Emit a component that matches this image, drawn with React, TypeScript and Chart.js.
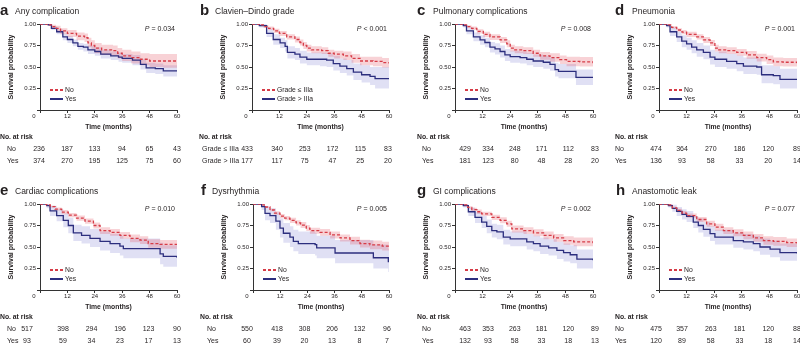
import React, { useEffect, useRef } from 'react';
import { Chart, registerables } from 'chart.js';
Chart.register(...registerables);

// ---------------- data ----------------
const MONTH_TICKS = [0, 12, 24, 36, 48, 60];
const Y_TICKS = [0, 0.25, 0.5, 0.75, 1];

// each row: [time (months), survival, lower CI, upper CI]
const aNo = [[0,1,1,1],[3.6,0.99,0.98,1],[5,0.97,0.95,0.99],[7,0.95,0.92,0.98],[9,0.92,0.88,0.95],[12,0.89,0.85,0.93],[16,0.86,0.81,0.9],[19.5,0.84,0.79,0.89],[21,0.78,0.73,0.84],[22.5,0.75,0.7,0.81],[24,0.72,0.66,0.78],[27,0.7,0.64,0.76],[32,0.69,0.63,0.75],[34,0.66,0.6,0.72],[36,0.63,0.57,0.7],[40,0.61,0.54,0.68],[44,0.59,0.52,0.66],[48,0.57,0.5,0.65],[54,0.57,0.49,0.65],[60,0.56,0.48,0.64]];
const aYes = [[0,1,1,1],[3.6,0.99,0.98,1],[5,0.95,0.93,0.97],[7.3,0.91,0.88,0.94],[10,0.85,0.81,0.89],[12,0.82,0.78,0.86],[14.4,0.78,0.74,0.82],[16.6,0.74,0.7,0.78],[19,0.73,0.68,0.77],[21,0.7,0.65,0.75],[24,0.68,0.63,0.73],[26.6,0.65,0.6,0.7],[31,0.63,0.58,0.68],[34.4,0.615,0.56,0.67],[36,0.6,0.55,0.65],[40.5,0.58,0.52,0.64],[44,0.53,0.47,0.59],[46.5,0.49,0.43,0.55],[50.5,0.48,0.42,0.54],[54,0.455,0.39,0.52],[60,0.455,0.39,0.52]];

const bNo = [[0,1,1,1],[3.2,0.99,0.98,1],[5,0.97,0.955,0.985],[7.2,0.95,0.93,0.97],[9.5,0.92,0.895,0.945],[12,0.89,0.86,0.92],[15.2,0.85,0.82,0.88],[18.8,0.82,0.785,0.855],[21,0.785,0.75,0.82],[22.5,0.75,0.71,0.79],[24,0.72,0.68,0.76],[26,0.7,0.66,0.74],[30.5,0.69,0.65,0.73],[33.4,0.66,0.62,0.7],[36,0.65,0.6,0.69],[40,0.63,0.58,0.68],[43.6,0.6,0.55,0.65],[47.3,0.57,0.52,0.62],[53,0.565,0.51,0.62],[57,0.55,0.495,0.605],[60,0.54,0.48,0.6]];
const bYes = [[0,1,1,1],[3.2,0.98,0.96,1],[6.4,0.89,0.85,0.94],[9.3,0.82,0.76,0.88],[12.3,0.78,0.72,0.84],[14.5,0.74,0.68,0.81],[15.5,0.67,0.6,0.74],[18.8,0.65,0.58,0.72],[21,0.615,0.54,0.69],[24,0.59,0.52,0.67],[29.8,0.59,0.51,0.67],[32.7,0.58,0.5,0.66],[35.6,0.54,0.46,0.63],[38.5,0.51,0.43,0.6],[41.5,0.48,0.4,0.58],[44.4,0.44,0.35,0.54],[48,0.41,0.32,0.52],[51.7,0.39,0.29,0.5],[53.9,0.365,0.25,0.5],[60,0.365,0.24,0.51]];

const cNo = [[0,1,1,1],[3.6,0.99,0.98,1],[5,0.97,0.955,0.985],[7.2,0.95,0.93,0.97],[9.5,0.915,0.89,0.94],[12.3,0.88,0.85,0.91],[15.2,0.85,0.815,0.88],[19.6,0.815,0.78,0.85],[22.5,0.77,0.73,0.81],[24,0.72,0.68,0.76],[26,0.7,0.66,0.74],[29.7,0.69,0.65,0.73],[34,0.66,0.62,0.7],[37,0.63,0.585,0.675],[41.3,0.61,0.56,0.66],[45.6,0.585,0.535,0.635],[48.5,0.565,0.51,0.62],[54.3,0.56,0.505,0.615],[60,0.545,0.49,0.6]];
const cYes = [[0,1,1,1],[3.6,0.98,0.96,1],[5,0.92,0.88,0.96],[8,0.85,0.8,0.9],[10.9,0.815,0.76,0.87],[13,0.785,0.73,0.84],[15.2,0.73,0.67,0.79],[17.4,0.71,0.645,0.775],[19.6,0.68,0.61,0.75],[21.7,0.64,0.57,0.71],[24,0.62,0.55,0.69],[28.3,0.61,0.54,0.68],[31.2,0.59,0.52,0.665],[34,0.57,0.5,0.645],[38.4,0.555,0.48,0.63],[41.3,0.53,0.455,0.61],[43.5,0.47,0.39,0.55],[45,0.45,0.37,0.535],[52.6,0.38,0.29,0.47],[60,0.38,0.29,0.47]];

const dNo = [[0,1,1,1],[3.3,0.99,0.98,1],[5.5,0.96,0.945,0.975],[7.7,0.93,0.91,0.95],[10,0.905,0.88,0.93],[12,0.88,0.85,0.91],[16.4,0.85,0.82,0.88],[19.3,0.815,0.78,0.85],[22.2,0.78,0.745,0.815],[24.3,0.72,0.68,0.76],[26,0.7,0.66,0.74],[29.4,0.69,0.65,0.73],[33.8,0.67,0.63,0.71],[38.1,0.64,0.595,0.685],[42.5,0.61,0.565,0.655],[46.8,0.585,0.535,0.635],[49.7,0.56,0.51,0.61],[54,0.555,0.505,0.605],[60,0.545,0.49,0.6]];
const dYes = [[0,1,1,1],[3.3,0.98,0.96,1],[4.8,0.91,0.86,0.96],[7.7,0.85,0.79,0.91],[9.9,0.8,0.73,0.87],[12,0.77,0.7,0.84],[14.2,0.73,0.66,0.81],[16.4,0.7,0.62,0.78],[19.3,0.67,0.59,0.75],[22.2,0.615,0.53,0.7],[24.3,0.59,0.5,0.68],[29.4,0.565,0.48,0.655],[33.8,0.54,0.45,0.635],[36.7,0.51,0.42,0.61],[42.5,0.5,0.41,0.6],[44.6,0.41,0.31,0.52],[49.7,0.4,0.3,0.51],[52.6,0.355,0.25,0.48],[60,0.355,0.25,0.48]];

const eNo = [[0,1,1,1],[2.9,0.99,0.985,1],[4.5,0.97,0.96,0.98],[6.6,0.94,0.925,0.96],[9.5,0.905,0.88,0.93],[12.4,0.87,0.845,0.895],[16,0.835,0.805,0.865],[19.7,0.8,0.77,0.83],[23.4,0.75,0.715,0.785],[26.3,0.69,0.65,0.73],[30.7,0.67,0.63,0.71],[35,0.635,0.595,0.675],[39.4,0.6,0.555,0.645],[43.8,0.58,0.535,0.625],[47.4,0.54,0.49,0.59],[52.6,0.53,0.48,0.58],[60,0.51,0.455,0.565]];
const eYes = [[0,1,1,1],[2.9,0.98,0.95,1],[4.4,0.92,0.86,0.98],[7.3,0.865,0.8,0.94],[10.2,0.81,0.73,0.89],[12.4,0.75,0.66,0.84],[14.6,0.665,0.57,0.76],[18.2,0.635,0.54,0.74],[21.9,0.6,0.5,0.71],[26.3,0.565,0.46,0.68],[30.7,0.54,0.43,0.655],[35,0.51,0.4,0.63],[36.5,0.48,0.37,0.6],[52.6,0.42,0.3,0.55],[54,0.39,0.27,0.52],[60,0.375,0.26,0.51]];

const fNo = [[0,1,1,1],[3.5,0.99,0.985,1],[5,0.965,0.955,0.975],[7.5,0.93,0.915,0.945],[9.5,0.895,0.875,0.915],[11.9,0.86,0.835,0.885],[14,0.835,0.81,0.86],[16.3,0.81,0.78,0.84],[19,0.78,0.75,0.81],[21,0.755,0.72,0.79],[23.5,0.72,0.685,0.755],[25.1,0.69,0.655,0.725],[29.6,0.67,0.63,0.71],[34,0.64,0.6,0.68],[38.4,0.605,0.565,0.645],[42.8,0.575,0.53,0.62],[47.2,0.54,0.495,0.585],[51.6,0.525,0.475,0.575],[57,0.51,0.46,0.56],[60,0.505,0.455,0.555]];
const fYes = [[0,1,1,1],[3.8,0.97,0.93,1],[5.3,0.89,0.81,0.97],[7.5,0.865,0.78,0.95],[10.1,0.8,0.7,0.9],[11.9,0.72,0.61,0.83],[13.4,0.66,0.55,0.78],[16.3,0.615,0.5,0.74],[17.8,0.565,0.45,0.7],[20,0.54,0.42,0.68],[27.4,0.527,0.4,0.665],[28.1,0.49,0.37,0.63],[36.2,0.43,0.31,0.58],[53.1,0.375,0.25,0.53],[59.7,0.33,0.21,0.48],[60,0.33,0.21,0.48]];

const gNo = [[0,1,1,1],[3.6,0.99,0.985,1],[5.5,0.96,0.945,0.975],[7.3,0.935,0.915,0.955],[9.5,0.91,0.885,0.935],[11.6,0.885,0.86,0.91],[16,0.845,0.815,0.875],[19.6,0.81,0.775,0.845],[22.5,0.77,0.735,0.805],[24.7,0.71,0.67,0.75],[29.8,0.69,0.65,0.73],[34.1,0.665,0.625,0.705],[38.5,0.635,0.59,0.68],[42.9,0.605,0.56,0.65],[47.2,0.575,0.525,0.625],[51.6,0.56,0.51,0.61],[60,0.545,0.49,0.6]];
const gYes = [[0,1,1,1],[3.6,0.98,0.96,1],[5.8,0.91,0.86,0.96],[8.7,0.845,0.78,0.91],[11.6,0.79,0.72,0.86],[13.8,0.74,0.66,0.82],[16,0.69,0.61,0.77],[18.2,0.675,0.59,0.76],[21,0.615,0.53,0.7],[24,0.595,0.51,0.68],[31.2,0.56,0.47,0.65],[34.1,0.54,0.45,0.63],[37,0.51,0.42,0.61],[40.7,0.49,0.4,0.59],[44.3,0.46,0.36,0.56],[47.2,0.435,0.33,0.54],[50.1,0.41,0.31,0.52],[53,0.36,0.25,0.47],[60,0.345,0.24,0.46]];

const hNo = [[0,1,1,1],[4.1,0.99,0.985,1],[5.8,0.955,0.94,0.97],[7.7,0.925,0.905,0.945],[10,0.895,0.87,0.92],[12,0.865,0.84,0.89],[16.4,0.82,0.79,0.85],[20.7,0.77,0.735,0.805],[24.3,0.73,0.69,0.77],[28,0.69,0.65,0.73],[32.3,0.665,0.625,0.705],[36.7,0.635,0.59,0.68],[41,0.605,0.56,0.65],[45.4,0.575,0.525,0.625],[49.7,0.565,0.515,0.615],[55.5,0.55,0.5,0.6],[60,0.54,0.485,0.595]];
const hYes = [[0,1,1,1],[4.1,0.98,0.96,1],[5.8,0.95,0.91,0.99],[7.7,0.915,0.86,0.965],[10,0.88,0.82,0.94],[12,0.855,0.79,0.92],[14.9,0.79,0.72,0.86],[17.1,0.75,0.67,0.83],[19.3,0.705,0.62,0.79],[22.2,0.655,0.57,0.74],[24.3,0.615,0.53,0.7],[32.3,0.575,0.49,0.665],[36.7,0.56,0.47,0.65],[41,0.54,0.45,0.63],[43.9,0.5,0.41,0.6],[48.3,0.475,0.38,0.575],[52.6,0.435,0.34,0.54],[60,0.425,0.33,0.53]];

// numbers at risk at 0, 12, 24, 36, 48, 60 months
const riskANo = [236, 187, 133, 94, 65, 43];
const riskAYes = [374, 270, 195, 125, 75, 60];
const riskBNo = [433, 340, 253, 172, 115, 83];
const riskBYes = [177, 117, 75, 47, 25, 20];
const riskCNo = [429, 334, 248, 171, 112, 83];
const riskCYes = [181, 123, 80, 48, 28, 20];
const riskDNo = [474, 364, 270, 186, 120, 89];
const riskDYes = [136, 93, 58, 33, 20, 14];
const riskENo = [517, 398, 294, 196, 123, 90];
const riskEYes = [93, 59, 34, 23, 17, 13];
const riskFNo = [550, 418, 308, 206, 132, 96];
const riskFYes = [60, 39, 20, 13, 8, 7];
const riskGNo = [463, 353, 263, 181, 120, 89];
const riskGYes = [132, 93, 58, 33, 18, 13];
const riskHNo = [475, 357, 263, 181, 120, 88];
const riskHYes = [120, 89, 58, 33, 18, 14];

const NO_YES = ['No', 'Yes'];
const GRADES = ['Grade \u2264 IIIa', 'Grade > IIIa'];

// ---------------- styles / layout ----------------
const FONT = '"Liberation Sans", Arial, Helvetica, sans-serif';
const RED = '#d63c47';
const NAVY = '#2c2e7e';
const PINK = 'rgba(228, 90, 105, 0.27)';
const LAV = 'rgba(100, 100, 200, 0.20)';
const AXIS = '#333333';
const TEXT = '#231f20';

const PANELS = [
  { letter: 'a', title: 'Any complication', p: '= 0.034', groups: NO_YES, no: aNo, yes: aYes, rNo: riskANo, rYes: riskAYes,
    axisX: 40, W: 137, row: 0, letterX: 0, titleX: 15, labelX: 7, atRiskX: 0, c0: 39, c1: 67, c5: 177 },
  { letter: 'b', title: 'Clavien\u2013Dindo grade', p: '< 0.001', groups: GRADES, no: bNo, yes: bYes, rNo: riskBNo, rYes: riskBYes,
    axisX: 252, W: 137, row: 0, letterX: 200, titleX: 215, labelX: 202, atRiskX: 199, c0: 247, c1: 277, c5: 388 },
  { letter: 'c', title: 'Pulmonary complications', p: '= 0.008', groups: NO_YES, no: cNo, yes: cYes, rNo: riskCNo, rYes: riskCYes,
    axisX: 455, W: 138, row: 0, letterX: 417, titleX: 433, labelX: 422, atRiskX: 417, c0: 465, c1: 488, c5: 595 },
  { letter: 'd', title: 'Pneumonia', p: '= 0.001', groups: NO_YES, no: dNo, yes: dYes, rNo: riskDNo, rYes: riskDYes,
    axisX: 659, W: 138, row: 0, letterX: 615, titleX: 632, labelX: 615, atRiskX: 615, c0: 656, c1: 682, c5: 797 },
  { letter: 'e', title: 'Cardiac complications', p: '= 0.010', groups: NO_YES, no: eNo, yes: eYes, rNo: riskENo, rYes: riskEYes,
    axisX: 40, W: 137, row: 180, letterX: 0, titleX: 15, labelX: 7, atRiskX: 0, c0: 27, c1: 63, c5: 177 },
  { letter: 'f', title: 'Dysrhythmia', p: '= 0.005', groups: NO_YES, no: fNo, yes: fYes, rNo: riskFNo, rYes: riskFYes,
    axisX: 253, W: 136, row: 180, letterX: 201, titleX: 212, labelX: 207, atRiskX: 200, c0: 247, c1: 277, c5: 387 },
  { letter: 'g', title: 'GI complications', p: '= 0.002', groups: NO_YES, no: gNo, yes: gYes, rNo: riskGNo, rYes: riskGYes,
    axisX: 455, W: 138, row: 180, letterX: 417, titleX: 433, labelX: 422, atRiskX: 417, c0: 465, c1: 488, c5: 595 },
  { letter: 'h', title: 'Anastomotic leak', p: '= 0.077', groups: NO_YES, no: hNo, yes: hYes, rNo: riskHNo, rYes: riskHYes,
    axisX: 659, W: 138, row: 180, letterX: 616, titleX: 632, labelX: 615, atRiskX: 615, c0: 656, c1: 682, c5: 797 },
];

const CANVAS_H = 116;
const PAD_TOP = 8;
const X_AXIS_H = 22;
const Y_AXIS_W = 40;
const PAD_RIGHT = 4;

function pts(rows: number[][], k: number) {
  return rows.map((r) => ({ x: r[0], y: r[k] }));
}

function Txt(props: { x: number; y: number; size: number; bold?: boolean; italic?: boolean; align?: 'left' | 'center' | 'right'; children: any }) {
  const { x, y, size, bold, italic, align = 'left', children } = props;
  const w = 220;
  const left = align === 'left' ? x : align === 'center' ? x - w / 2 : x - w;
  return (
    <div
      style={{
        position: 'absolute', left, top: y - size * 0.5, width: w, fontSize: size, lineHeight: 1,
        fontWeight: bold ? 'bold' : 'normal', fontStyle: italic ? 'italic' : 'normal', textAlign: align,
        whiteSpace: 'nowrap', color: TEXT, fontFamily: FONT,
      }}
    >
      {children}
    </div>
  );
}

function KMChart({ cfg }: { cfg: any }) {
  const ref = useRef<HTMLCanvasElement | null>(null);
  const w = Y_AXIS_W + cfg.W + PAD_RIGHT;
  useEffect(() => {
    if (!ref.current) return;
    const hidden = { borderWidth: 0, borderColor: 'rgba(0,0,0,0)', pointRadius: 0, stepped: true as const };
    const chart = new Chart(ref.current, {
      type: 'line',
      data: {
        datasets: [
          { data: pts(cfg.no, 1), borderColor: RED, borderWidth: 1.3, borderDash: [3, 2], stepped: true, pointRadius: 0, fill: false, order: 1 },
          { data: pts(cfg.yes, 1), borderColor: NAVY, borderWidth: 1.3, stepped: true, pointRadius: 0, fill: false, order: 2 },
          { data: pts(cfg.no, 2), ...hidden, fill: false, order: 3 },
          { data: pts(cfg.no, 3), ...hidden, fill: '-1', backgroundColor: PINK, order: 3 },
          { data: pts(cfg.yes, 2), ...hidden, fill: false, order: 4 },
          { data: pts(cfg.yes, 3), ...hidden, fill: '-1', backgroundColor: LAV, order: 4 },
        ] as any,
      },
      options: {
        animation: false,
        responsive: false,
        maintainAspectRatio: false,
        events: [],
        layout: { padding: { top: PAD_TOP, right: PAD_RIGHT, left: 0, bottom: 0 } },
        plugins: { legend: { display: false }, tooltip: { enabled: false } },
        scales: {
          x: {
            type: 'linear', min: 0, max: 60,
            afterFit: (s: any) => { s.height = X_AXIS_H; },
            afterBuildTicks: (s: any) => { s.ticks = MONTH_TICKS.map((v) => ({ value: v })); },
            ticks: {
              autoSkip: false, maxRotation: 0, padding: 0, color: TEXT,
              font: { size: 6, family: FONT },
              callback: (v: any) => (Number(v) === 0 ? '' : String(v)),
            },
            grid: { drawOnChartArea: false, drawTicks: true, tickLength: 3, color: AXIS, lineWidth: 1 },
            border: { display: true, color: AXIS, width: 1 },
            title: { display: true, text: 'Time (months)', color: TEXT, font: { size: 6.8, weight: 'bold', family: FONT }, padding: { top: 0, bottom: 1 } },
          },
          y: {
            type: 'linear', min: 0, max: 1,
            afterFit: (s: any) => { s.width = Y_AXIS_W; },
            afterBuildTicks: (s: any) => { s.ticks = Y_TICKS.map((v) => ({ value: v })); },
            ticks: {
              padding: 1, color: TEXT, font: { size: 6, family: FONT },
              callback: (v: any) => (Number(v) === 0 ? '' : Number(v).toFixed(2)),
            },
            grid: { drawOnChartArea: false, drawTicks: true, tickLength: 3, color: AXIS, lineWidth: 1 },
            border: { display: true, color: AXIS, width: 1 },
            title: { display: true, text: 'Survival probability', color: TEXT, font: { size: 7, weight: 'bold', family: FONT }, padding: { top: 7, bottom: 0 } },
          },
        },
      } as any,
    });
    return () => chart.destroy();
  }, [cfg]);
  return (
    <canvas
      ref={ref}
      width={w}
      height={CANVAS_H}
      style={{ position: 'absolute', left: cfg.axisX - Y_AXIS_W, top: cfg.row + 16, width: w, height: CANVAS_H }}
    />
  );
}

function LegendLine({ x, y, dashed, color }: { x: number; y: number; dashed: boolean; color: string }) {
  return (
    <div
      style={{
        position: 'absolute', left: x, top: y - 0.65, width: 13, height: 1.3,
        background: dashed ? `repeating-linear-gradient(to right, ${color} 0px, ${color} 3px, transparent 3px, transparent 5px)` : color,
      }}
    />
  );
}

function Panel({ cfg }: { cfg: any }) {
  const r = cfg.row;
  const colX = (i: number) => (i === 0 ? cfg.c0 : cfg.c1 + ((cfg.c5 - cfg.c1) * (i - 1)) / 4);
  const right = cfg.axisX + cfg.W;
  return (
    <>
      <KMChart cfg={cfg} />
      <Txt x={cfg.letterX} y={r + 9.8} size={15} bold>{cfg.letter}</Txt>
      <Txt x={cfg.titleX} y={r + 10.8} size={8.5}>{cfg.title}</Txt>
      <Txt x={right - 2} y={r + 28} size={7} align="right"><i>P</i> {cfg.p}</Txt>
      <LegendLine x={cfg.axisX + 10} y={r + 90} dashed color={RED} />
      <LegendLine x={cfg.axisX + 10} y={r + 99} dashed={false} color={NAVY} />
      <Txt x={cfg.axisX + 25} y={r + 90} size={6.8}>{cfg.groups[0]}</Txt>
      <Txt x={cfg.axisX + 25} y={r + 99} size={6.8}>{cfg.groups[1]}</Txt>
      <Txt x={cfg.axisX - 6} y={r + 116} size={6} align="center">0</Txt>
      <Txt x={cfg.atRiskX} y={r + 137} size={6.8} bold>No. at risk</Txt>
      <Txt x={cfg.labelX} y={r + 148} size={7}>{cfg.groups[0]}</Txt>
      <Txt x={cfg.labelX} y={r + 160} size={7}>{cfg.groups[1]}</Txt>
      {cfg.rNo.map((v: number, i: number) => (
        <Txt key={'n' + i} x={colX(i)} y={r + 148} size={7} align="center">{v}</Txt>
      ))}
      {cfg.rYes.map((v: number, i: number) => (
        <Txt key={'y' + i} x={colX(i)} y={r + 160} size={7} align="center">{v}</Txt>
      ))}
    </>
  );
}

export default function App() {
  useEffect(() => {
    document.body.style.margin = '0';
  }, []);
  return (
    <div style={{ position: 'fixed', left: 0, top: 0, width: 800, height: 346, overflow: 'hidden', background: '#fff', fontFamily: FONT }}>
      {PANELS.map((p) => (
        <Panel key={p.letter} cfg={p} />
      ))}
    </div>
  );
}
